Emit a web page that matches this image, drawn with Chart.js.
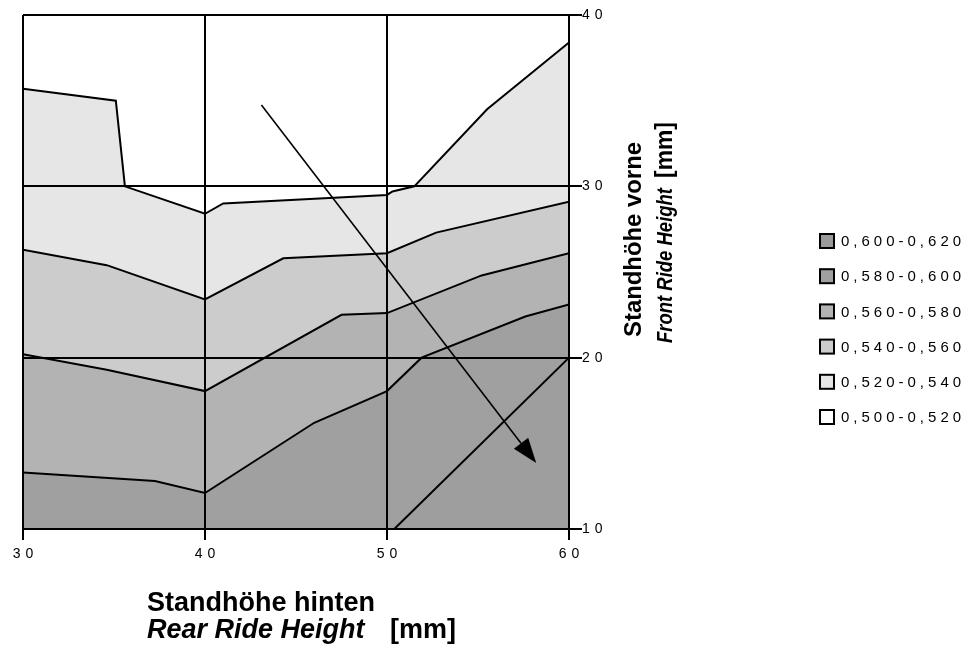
<!DOCTYPE html>
<html>
<head>
<meta charset="utf-8">
<script src="https://cdn.jsdelivr.net/npm/chart.js@4/dist/chart.umd.min.js"></script>
<style>
  html, body { margin: 0; padding: 0; background: #fff; }
  #wrap { position: relative; width: 969px; height: 649px; }
</style>
</head>
<body>
<div id="wrap"><canvas id="contourChart"></canvas></div>
<script>
// Contour boundaries: x = rear ride height [mm], y = front ride height [mm]
const line1X = [30, 35.1, 35.6, 40, 41, 50, 50.3, 51.5, 55.5, 60];
const line1Y = [35.7, 35.0, 30.0, 28.4, 29.0, 29.5, 29.7, 30.0, 34.5, 38.4];

const line2X = [30, 34.6, 40, 44.3, 50, 52.7, 60];
const line2Y = [26.3, 25.4, 23.4, 25.8, 26.1, 27.3, 29.1];

const line3X = [30, 34.6, 40, 47.5, 50, 55.2, 60];
const line3Y = [20.2, 19.3, 18.05, 22.5, 22.6, 24.8, 26.1];

const line4X = [30, 37.25, 40, 46.0, 50, 51.9, 57.6, 60];
const line4Y = [13.3, 12.8, 12.1, 16.2, 18.05, 20.0, 22.4, 23.1];

const line5X = [30, 50.4, 60];
const line5Y = [10, 10, 20];

// band fills (below each boundary)
const bandColors = ['#e6e6e6', '#cccccc', '#b3b3b3', '#a0a0a0', '#9e9e9e'];

// legend
const legendLabels = ['0,600-0,620', '0,580-0,600', '0,560-0,580', '0,540-0,560', '0,520-0,540', '0,500-0,520'];
const legendColors = ['#9a9a9a', '#a0a0a0', '#b3b3b3', '#cccccc', '#e6e6e6', '#ffffff'];

// axis ticks
const xTicks = [30, 40, 50, 60];
const yTicks = [10, 20, 30, 40];

// trend arrow (data coords)
const arrowFrom = { x: 43.1, y: 34.75 };
const arrowTo = { x: 58.2, y: 13.85 };

const toPoints = (xs, ys) => xs.map((x, i) => ({ x: x, y: ys[i] }));

const boundaries = [
    [line1X, line1Y],
    [line2X, line2Y],
    [line3X, line3Y],
    [line4X, line4Y],
    [line5X, line5Y]
];

const datasets = boundaries.map((b, i) => ({
    data: toPoints(b[0], b[1]),
    borderColor: '#000',
    borderWidth: 2,
    backgroundColor: bandColors[i],
    fill: 'start',
    pointRadius: 0,
    tension: 0,
    order: boundaries.length - i
}));

const FONT = "'Liberation Sans', Arial, sans-serif";
const tickFont = { family: FONT, size: 14 };

const decorPlugin = {
    id: 'decor',
    beforeDraw(chart) {
        chart.ctx.letterSpacing = '5px';
    },
    afterDraw(chart) {
        const ctx = chart.ctx;
        const xs = chart.scales.x, ys = chart.scales.y;

        // arrow
        const x0 = xs.getPixelForValue(arrowFrom.x), y0 = ys.getPixelForValue(arrowFrom.y);
        const x1 = xs.getPixelForValue(arrowTo.x), y1 = ys.getPixelForValue(arrowTo.y);
        const ang = Math.atan2(y1 - y0, x1 - x0);
        const headLen = 25, headW = 9;
        ctx.save();
        ctx.letterSpacing = '0px';
        ctx.strokeStyle = '#000';
        ctx.lineWidth = 1.6;
        ctx.beginPath();
        ctx.moveTo(x0, y0);
        ctx.lineTo(x1 - Math.cos(ang) * headLen, y1 - Math.sin(ang) * headLen);
        ctx.stroke();
        ctx.fillStyle = '#000';
        ctx.beginPath();
        ctx.moveTo(x1, y1);
        const bx = x1 - Math.cos(ang) * headLen, by = y1 - Math.sin(ang) * headLen;
        ctx.lineTo(bx + Math.sin(ang) * headW, by - Math.cos(ang) * headW);
        ctx.lineTo(bx - Math.sin(ang) * headW, by + Math.cos(ang) * headW);
        ctx.closePath();
        ctx.fill();

        // legend
        ctx.font = '15px ' + FONT;
        ctx.letterSpacing = '4px';
        ctx.textBaseline = 'middle';
        ctx.textAlign = 'left';
        legendLabels.forEach((lab, i) => {
            const cy = 241 + i * 35.2;
            ctx.fillStyle = legendColors[i];
            ctx.fillRect(820, cy - 7, 14, 14);
            ctx.strokeStyle = '#000';
            ctx.lineWidth = 2;
            ctx.strokeRect(820, cy - 7, 14, 14);
            ctx.fillStyle = '#000';
            ctx.fillText(lab, 841, cy + 1);
        });

        // x axis title
        ctx.letterSpacing = '0px';
        ctx.textBaseline = 'alphabetic';
        ctx.font = 'bold 27px ' + FONT;
        ctx.fillText('Standhöhe hinten', 147, 611);
        ctx.font = 'italic bold 27px ' + FONT;
        ctx.fillText('Rear Ride Height', 147, 638);
        ctx.font = 'bold 27px ' + FONT;
        ctx.fillText('[mm]', 390, 638);

        // y axis title (rotated)
        ctx.save();
        ctx.translate(641, 337);
        ctx.rotate(-Math.PI / 2);
        ctx.font = 'bold 24px ' + FONT;
        ctx.fillText('Standhöhe vorne', 0, 0, 195);
        ctx.restore();
        ctx.save();
        ctx.translate(672, 343);
        ctx.rotate(-Math.PI / 2);
        ctx.font = 'italic bold 22px ' + FONT;
        ctx.fillText('Front Ride Height', 0, 0, 155);
        ctx.font = 'bold 23px ' + FONT;
        ctx.fillText('[mm]', 165, 0, 56);
        ctx.restore();

        ctx.restore();
    }
};

new Chart(document.getElementById('contourChart'), {
    type: 'line',
    data: { datasets: datasets },
    plugins: [decorPlugin],
    options: {
        responsive: true,
        maintainAspectRatio: false,
        animation: false,
        layout: { padding: { left: 23, top: 15, right: 0, bottom: 0 } },
        plugins: {
            legend: { display: false },
            tooltip: { enabled: false }
        },
        scales: {
            x: {
                type: 'linear',
                position: 'bottom',
                min: 30,
                max: 60,
                afterBuildTicks: s => { s.ticks = xTicks.map(v => ({ value: v })); },
                afterFit: s => { s.height = 120; },
                ticks: { color: '#000', font: tickFont, padding: 6, maxRotation: 0, labelOffset: 2.5, z: 1 },
                grid: { color: '#000', lineWidth: 2, tickLength: 11, z: 1 },
                border: { display: true, color: '#000', width: 2, z: 1 }
            },
            y: {
                type: 'linear',
                position: 'right',
                min: 10,
                max: 40,
                afterBuildTicks: s => { s.ticks = yTicks.map(v => ({ value: v })); },
                afterFit: s => { s.width = 400; },
                ticks: { color: '#000', font: tickFont, padding: 0, z: 1 },
                grid: { color: '#000', lineWidth: 2, tickLength: 13, z: 1 },
                border: { display: true, color: '#000', width: 2, z: 1 }
            }
        }
    }
});
</script>
</body>
</html>
